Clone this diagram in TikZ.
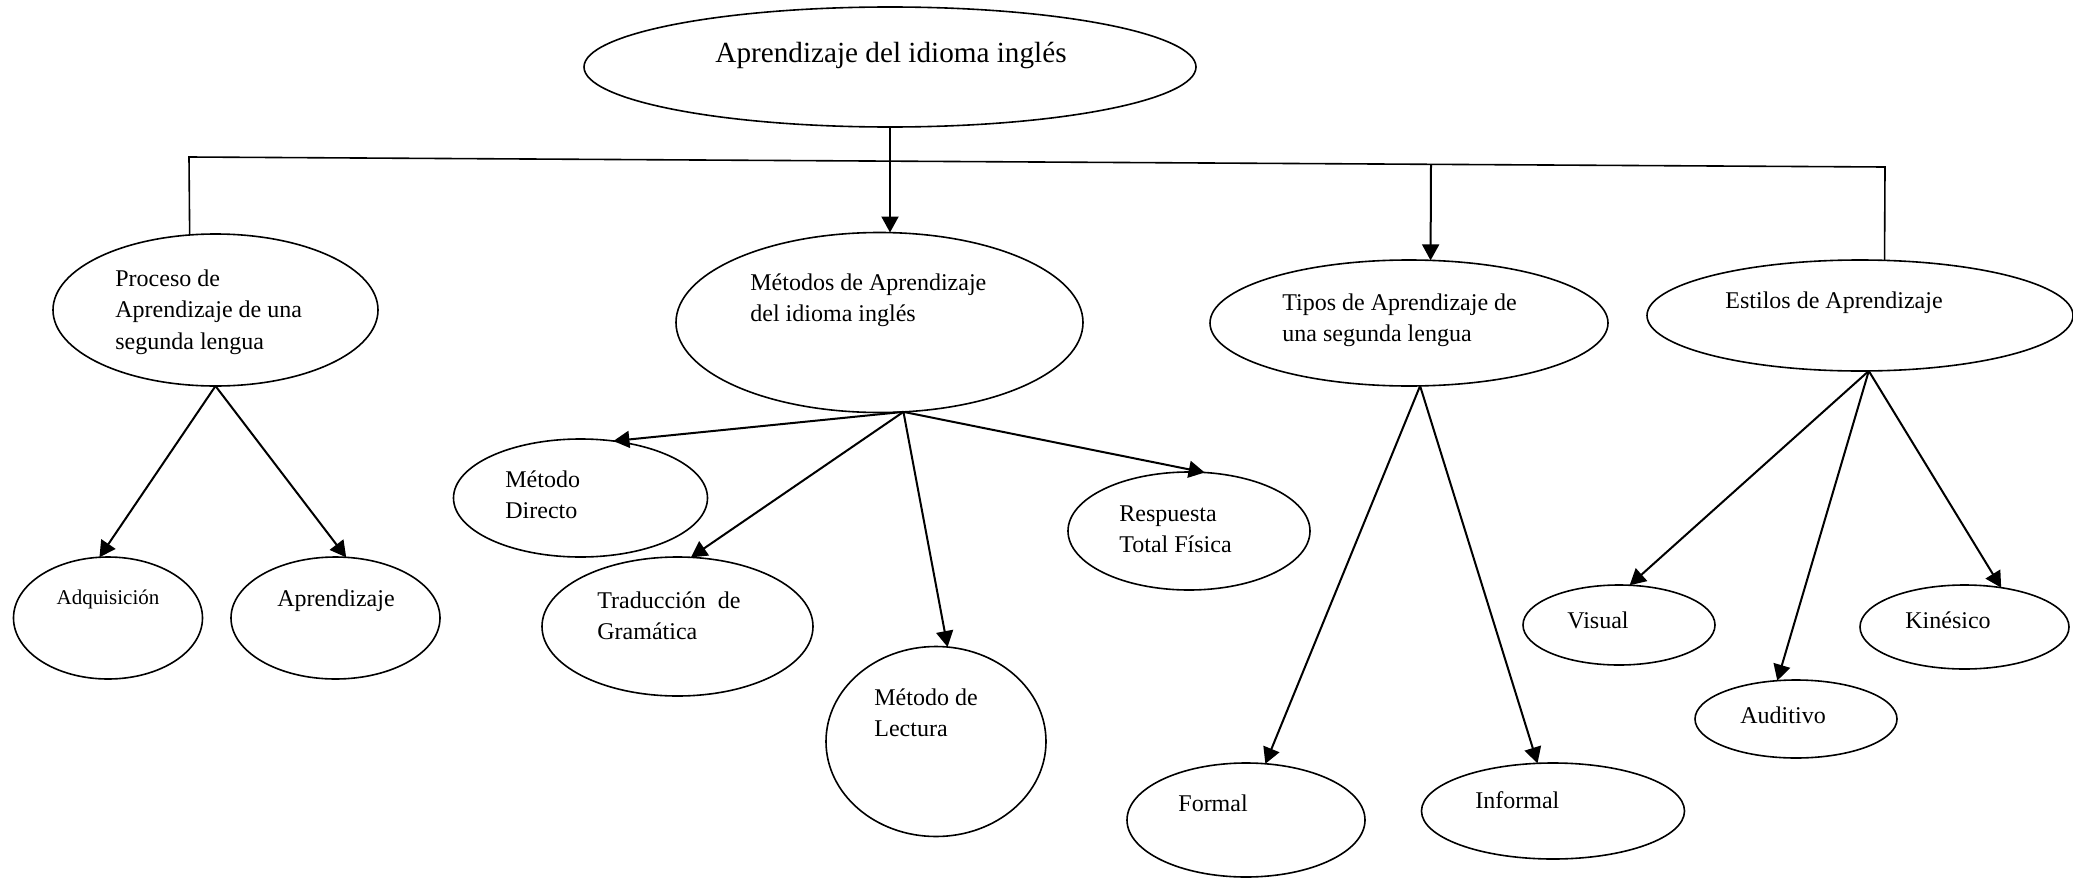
\documentclass[tikz,border=0pt]{standalone}
\usepackage{fontspec}
\setmainfont{Liberation Serif}
\usetikzlibrary{shapes.geometric,arrows.meta}
\begin{document}
\begin{tikzpicture}[x=0.5pt,y=-0.5pt,
  oval/.style={draw,ellipse,line width=0.8pt,inner sep=0pt,outer sep=0pt},
  txt/.style={anchor=base west,inner sep=0pt,align=left,font=\fontsize{12}{15.75}\selectfont},
  arr/.style={line width=1pt,-{Triangle[length=8pt,width=8.5pt]}},
  ln/.style={line width=0.8pt}]
\useasboundingbox (0,0) rectangle (2073,878);
% ellipses
\node[oval,minimum width=306pt,minimum height=60pt] (top) at (890,67) {};
\node[oval,minimum width=162.5pt,minimum height=76pt] (proc) at (215.5,310) {};
\node[oval,minimum width=203.5pt,minimum height=90pt] (met) at (879.5,322.5) {};
\node[oval,minimum width=199pt,minimum height=63pt] (tip) at (1409,323) {};
\node[oval,minimum width=213pt,minimum height=55.5pt] (est) at (1860,315.5) {};
\node[oval,minimum width=94.5pt,minimum height=61pt] (adq) at (108,618) {};
\node[oval,minimum width=104.5pt,minimum height=61pt] (apr) at (335.5,618) {};
\node[oval,minimum width=127pt,minimum height=59pt] (dir) at (580.5,498) {};
\node[oval,minimum width=135.5pt,minimum height=69.5pt] (tra) at (677.5,626.5) {};
\node[oval,minimum width=110pt,minimum height=95pt] (lec) at (936,741.5) {};
\node[oval,minimum width=121pt,minimum height=59pt] (res) at (1189,531) {};
\node[oval,minimum width=119pt,minimum height=57pt] (for) at (1246,820) {};
\node[oval,minimum width=131.5pt,minimum height=48pt] (inf) at (1553,811) {};
\node[oval,minimum width=96pt,minimum height=40pt] (vis) at (1619,625) {};
\node[oval,minimum width=101pt,minimum height=39pt] (aud) at (1796,719) {};
\node[oval,minimum width=104.5pt,minimum height=42pt] (kin) at (1964.5,627) {};
% texts (multi-line: base = baseline of last line)
\node[anchor=base,inner sep=0pt,font=\fontsize{14.6}{17}\selectfont] (ttop) at (891,62) {Aprendizaje del idioma inglés};
\node[txt] (tproc) at (115,349) {Proceso de\\Aprendizaje de una\\segunda lengua};
\node[txt] (tmet) at (750,321.5) {Métodos de Aprendizaje\\del idioma inglés};
\node[txt] (ttip) at (1282,341.5) {Tipos de Aprendizaje de\\una segunda lengua};
\node[txt] (test) at (1725,308) {Estilos de Aprendizaje};
\node[anchor=base,inner sep=0pt,font=\fontsize{10.5}{13}\selectfont] (tadq) at (108,604) {Adquisición};
\node[txt] (tapr) at (277,606) {Aprendizaje};
\node[txt] (tdir) at (505,518.5) {Método\\Directo};
\node[txt] (ttra) at (597,639.5) {Traducción\ \ de\\Gramática};
\node[txt] (tlec) at (874,736.5) {Método de\\Lectura};
\node[txt] (tres) at (1119,552.5) {Respuesta\\Total Física};
\node[txt] (tfor) at (1178,811) {Formal};
\node[txt] (tinf) at (1475,808) {Informal};
\node[txt] (tvis) at (1567,628) {Visual};
\node[txt] (taud) at (1740,723) {Auditivo};
\node[txt] (tkin) at (1905,628) {Kinésico};
% bus
\coordinate (busL) at (189,157);
\coordinate (busR) at (1885,167);
\coordinate (busT) at (1431,164.3);
\draw[ln] (proc.109) -- (busL) -- (busR) -- (est.66);
\draw[arr] (busT) -- (tip.71);
\draw[arr] (top.south) -- (top.south |- met.north);
% children
\draw[arr] (proc.south) -- (adq.98);
\draw[arr] (proc.south) -- (apr.80);
\draw[arr] (met.-75) -- (dir.60);
\draw[arr] (met.-75) -- (tra.79);
\draw[arr] (met.-75) -- (lec.83);
\draw[arr] (met.-75) -- (res.75);
\draw[arr] (tip.-80) -- (for.71);
\draw[arr] (tip.-80) -- (inf.108);
\draw[arr] (est.-81) -- (vis.75);
\draw[arr] (est.-81) -- (aud.116);
\draw[arr] (est.-81) -- (kin.47);
\end{tikzpicture}
\end{document}
